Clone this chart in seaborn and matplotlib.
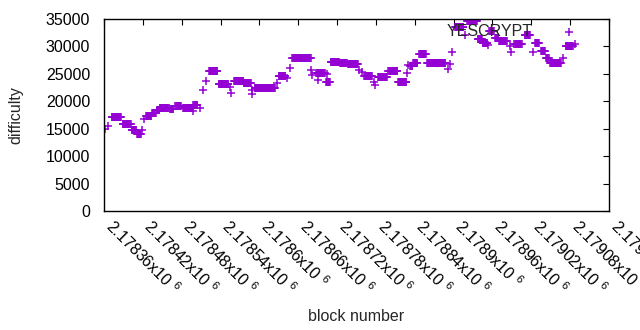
import numpy as np
import pandas as pd
import matplotlib
matplotlib.use("Agg")
import matplotlib.pyplot as plt
import seaborn as sns
from matplotlib.ticker import FuncFormatter, MultipleLocator

# ---- data (block number, difficulty) ----
# runs of consecutive blocks sharing the same difficulty
run_start = [2178372, 2178389, 2178403, 2178411, 2178425, 2178434, 2178442, 2178446,
             2178462, 2178470, 2178482, 2178498, 2178522, 2178537, 2178561, 2178576,
             2178593, 2178630, 2178651, 2178688, 2178703, 2178710, 2178725, 2178737,
             2178762, 2178783, 2178799, 2178814, 2178833, 2178838, 2178847, 2178859,
             2178902, 2178921, 2178937, 2178945, 2178955, 2178964, 2178970, 2178994,
             2179010, 2179026, 2179035, 2179043, 2179049, 2179073]
run_end = [2178386, 2178401, 2178410, 2178417, 2178433, 2178440, 2178445, 2178460,
           2178467, 2178479, 2178497, 2178504, 2178535, 2178552, 2178575, 2178587,
           2178624, 2178640, 2178679, 2178701, 2178709, 2178723, 2178735, 2178752,
           2178774, 2178797, 2178813, 2178827, 2178836, 2178844, 2178857, 2178887,
           2178915, 2178936, 2178944, 2178952, 2178962, 2178969, 2178982, 2179005,
           2179018, 2179032, 2179041, 2179047, 2179066, 2179084]
run_difficulty = [17100, 15800, 14800, 14000, 17300, 17950, 18500, 18850,
                  18650, 19150, 18800, 19300, 25450, 23100, 23700, 23300,
                  22350, 24550, 27850, 25100, 23450, 27200, 26950, 26800,
                  24550, 24350, 25450, 23600, 26450, 27050, 28550, 26900,
                  33500, 34550, 31300, 30700, 32800, 31450, 31000, 30500,
                  32050, 30650, 29150, 27800, 27000, 30050]
# isolated blocks
single_block = [2178362, 2178366, 2178419, 2178422, 2178497, 2178508, 2178513, 2178518,
                2178555, 2178556, 2178588, 2178589, 2178627, 2178643, 2178647, 2178680,
                2178682, 2178691, 2178704, 2178754, 2178758, 2178777, 2178779, 2178828,
                2178830, 2178891, 2178895, 2178898, 2178918, 2178953, 2178987, 2178988,
                2179023, 2179069, 2179088]
single_difficulty = [14900, 15500, 14850, 16750, 18150, 18800, 22050, 23750,
                     22600, 21600, 21350, 22050, 23400, 24250, 26050, 25700,
                     24800, 23900, 24900, 25700, 25250, 23500, 22900, 25150,
                     26600, 25900, 26800, 29000, 32100, 30350, 30100, 29000,
                     29000, 27900, 30450]

blocks, diffs = [], []
for s, e, d in zip(run_start, run_end, run_difficulty):
    for b in range(s, e + 1):
        blocks.append(b)
        diffs.append(d)
blocks += single_block
diffs += single_difficulty
df = pd.DataFrame({"block number": blocks, "difficulty": diffs})

# ---- styling ----
FS = 11.5
sns.set_style("white")
plt.rcParams["font.family"] = ["Liberation Sans", "DejaVu Sans"]
plt.rcParams["mathtext.fontset"] = "custom"
plt.rcParams["mathtext.rm"] = "Liberation Sans"
plt.rcParams["mathtext.it"] = "Liberation Sans"
plt.rcParams["font.size"] = FS

fig = plt.figure(figsize=(6.4, 3.3), dpi=100)
ax = fig.add_axes([104 / 640, 1 - 211 / 330, 505 / 640, 192 / 330])

color = "#9400D3"
sns.scatterplot(data=df, x="block number", y="difficulty", marker="+",
                color=color, s=32, linewidth=1.1, label="YESCRYPT", ax=ax)

ax.set_xlim(2178360, 2179140)
ax.set_ylim(0, 35000)
ax.xaxis.set_major_locator(MultipleLocator(60))
ax.yaxis.set_major_locator(MultipleLocator(5000))
ax.xaxis.set_major_formatter(FuncFormatter(lambda v, p: "%gx10 $^{6}$" % (v / 1e6)))
ax.yaxis.set_major_formatter(FuncFormatter(lambda v, p: "%d" % v))

for sp in ax.spines.values():
    sp.set_visible(True)
    sp.set_color("black")
    sp.set_linewidth(1.0)

ax.tick_params(axis="both", which="major", direction="in", length=4.5, width=0.8,
               top=True, right=True, colors="black", labelcolor="black",
               labelsize=FS)
ax.tick_params(axis="y", pad=10)
ax.tick_params(axis="x", pad=12)
for lab in ax.get_xticklabels():
    lab.set_rotation(-45)
    lab.set_ha("left")
    lab.set_va("baseline")
    lab.set_rotation_mode("anchor")

ax.set_xlabel("block number", fontsize=FS, labelpad=8)
ax.set_ylabel("difficulty", fontsize=FS, labelpad=16)
ax.grid(False)

leg = ax.legend(loc="upper right", bbox_to_anchor=(0.979, 1.022), markerfirst=False,
                frameon=False, fontsize=FS, handlelength=2.5, handletextpad=1.0,
                borderaxespad=0.2)

fig.savefig("out.png", dpi=100)
